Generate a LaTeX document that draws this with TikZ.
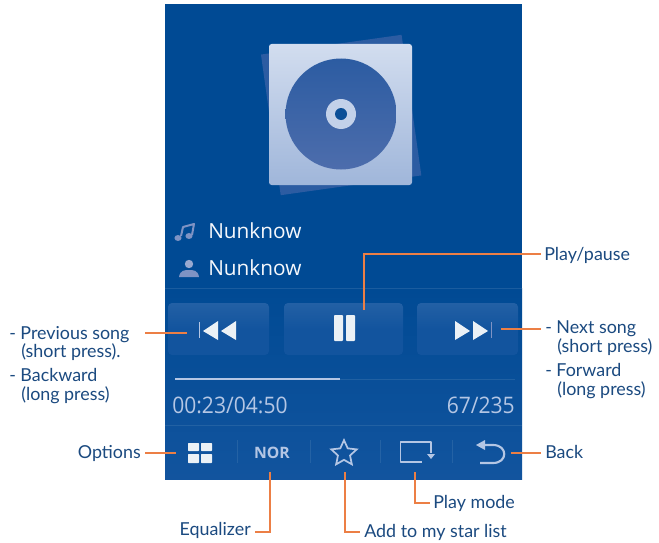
\documentclass[tikz,border=0pt]{standalone}
\usepackage{fontspec}
\setmainfont{Lato}
\newfontfamily\uifont{Open Sans}
\usetikzlibrary{shapes.geometric}
\definecolor{labelblue}{HTML}{1B4A80}
\definecolor{leadorange}{HTML}{EC7F45}
\definecolor{paneltop}{HTML}{004A94}
\definecolor{panelbot}{HTML}{12549E}
\definecolor{uilight}{HTML}{B4C6E4}
\definecolor{uidim}{HTML}{7F93C4}
\definecolor{discblue}{HTML}{4D6DAC}
\definecolor{backsq}{HTML}{2C5CA2}
\definecolor{btnfill}{HTML}{12549E}
\tikzset{
  x=0.75pt,y=-0.75pt,
  lbl/.style={text=labelblue,inner sep=0pt,font=\fontsize{13.4}{15}\selectfont},
  lead/.style={draw=leadorange,line width=1.5pt,line join=miter},
  btn/.style={top color=btnfill!93!white,bottom color=btnfill,middle color=btnfill,rounded corners=3pt},
  uitext/.style={text=uilight,inner sep=0pt},
  trackname/.style={text=white!88!uilight,inner sep=0pt,anchor=base west,font=\uifont\fontsize{15.6}{17}\selectfont},
  timetext/.style={uitext,font=\uifont\fontsize{15.8}{17}\selectfont},
  sep/.style={draw=white!30!paneltop,opacity=.35,line width=.5pt},
  icon/.style={fill=white!92!paneltop,draw=none},
  iconline/.style={draw=uilight,line width=1.3pt,line join=round}
}
\begin{document}
\begin{tikzpicture}
\useasboundingbox (0,0) rectangle (659,542);
\fill[white] (0,0) rectangle (659,542);
% panel
\fill[paneltop] (165,4) rectangle (522,290);
\shade[top color=paneltop,bottom color=panelbot] (165,288) rectangle (522,479);
% album art
\fill[backsq,rotate around={8:(341,114)}] (270,44) rectangle (412,186);
\shade[top color=uilight!60!white,bottom color=uilight!85!backsq,rounded corners=2pt] (269,44) rectangle (412,185);
\shade[top color=backsq,bottom color=discblue] (341,114) circle[radius=55.5];
\fill[uilight!80!white] (341,114) circle[radius=15];
\fill[paneltop!75!backsq] (341,114) circle[radius=6];
% track rows
\node[trackname] (song) at (208,238) {Nunknow};
\node[trackname] (artist) at (208,275) {Nunknow};
% note icon
\draw[uidim,line width=1.5pt,line join=round] (181,236) -- (183,227) -- (194,224) -- (192,235);
\fill[uidim] (178,238) ellipse[x radius=3.6,y radius=3] (189,236) ellipse[x radius=3.6,y radius=3];
% person icon
\fill[uidim!80!white] (189,264) circle[radius=4.2];
\fill[uidim] (179,277) .. controls (180,270) and (185,270) .. (189,270) .. controls (193,270) and (198,270) .. (199,277) -- cycle;
% row separator
\draw[sep] (165,288) -- (522,288);
% buttons
\path[btn] (168,303) rectangle (269,355);
\path[btn] (284,303) rectangle (403,355);
\path[btn] (417,303) rectangle (518,355);
% prev icon
\fill[uilight] (198.5,322) rectangle (200,338);
\fill[icon] (203,331) -- (218,321) -- (218,340) -- cycle;
\fill[icon] (221,331) -- (236,321) -- (236,340) -- cycle;
\coordinate (previcon) at (187,333);
% pause icon
\fill[icon,rounded corners=.6pt] (334,315) rectangle (343,341);
\fill[icon,rounded corners=.6pt] (346,315) rectangle (355,341);
\coordinate (pauseicon) at (364,310);
% next icon
\fill[icon] (455,321) -- (470,331) -- (455,340) -- cycle;
\fill[icon] (473,321) -- (488,331) -- (473,340) -- cycle;
\fill[uidim] (491,322) rectangle (492,338);
\coordinate (nexticon) at (501,329);
% progress bar
\draw[sep] (340,379) -- (515,379);
\draw[uilight,line width=1.5pt] (175,379) -- (340,379);
% times
\node[timetext,anchor=base west] (elapsed) at (172,413) {\scalebox{1}[1.08]{00:23/04:50}};
\node[timetext,anchor=base east] (count) at (515,413) {\scalebox{1}[1.08]{67/235}};
% toolbar
\draw[sep] (165,425) -- (522,425);
\foreach \sx in {237,310,380,452} \draw[sep] (\sx,440) -- (\sx,463);
% options icon
\fill[icon,rounded corners=.5pt] (188,443) rectangle (199,451);
\fill[icon,rounded corners=.5pt] (201,443) rectangle (212,451);
\fill[icon,rounded corners=.5pt] (188,454) rectangle (199,463);
\fill[icon,rounded corners=.5pt] (201,454) rectangle (212,463);
\coordinate (optionsicon) at (176,453);
% NOR
\node[uitext,font=\uifont\bfseries\fontsize{11.8}{13}\selectfont] (nor) at (272,453) {NOR};
\coordinate (noricon) at (270,472);
% star
\node[star,star points=5,star point ratio=2.1,draw=uilight,line width=1.3pt,minimum size=20pt,inner sep=0pt] (staricon) at (344,453.5) {};
\coordinate (starend) at (345,472);
% play mode icon
\draw[iconline] (431,453) -- (431,442) -- (400.5,442) -- (400.5,462) -- (422,462);
\fill[uilight] (427,454) -- (435,454) -- (431,459) -- cycle;
\coordinate (modeicon) at (415,472);
% back icon
\draw[iconline,line width=1.6pt] (481,445) -- (493,445) .. controls (508,445) and (508,463) .. (493,463) -- (480,463);
\fill[uilight] (476,445) -- (485,440) -- (485,450) -- cycle;
\coordinate (backicon) at (511,453);
% labels
\node[lbl,anchor=base west] (play) at (544,260) {Play/pause};
\node[lbl,anchor=base west] (prev1) at (9,339) {- Previous song};
\node[lbl,anchor=base west] at (21,357) {(short press).};
\node[lbl,anchor=base west] at (9,381) {- Backward};
\node[lbl,anchor=base west] at (21,400) {(long press)};
\node[lbl,anchor=base west] (next1) at (545,333) {- Next song};
\node[lbl,anchor=base west] at (557,352) {(short press)};
\node[lbl,anchor=base west] at (545,376) {- Forward};
\node[lbl,anchor=base west] at (557,395) {(long press)};
\node[lbl,anchor=base east] (options) at (141,458) {Options};
\node[lbl,anchor=base west] (back) at (545,458) {Back};
\node[lbl,anchor=base west] (mode) at (433,508) {Play mode};
\node[lbl,anchor=base west] (starlabel) at (364,537) {Add to my star list};
\node[lbl,anchor=base east] (eq) at (251,535) {Equalizer};
% connectors
\coordinate (prevL) at (145,333);
\coordinate (nextR) at (541,329);
\coordinate (playR) at (541,254);
\coordinate (optL) at (145,453);
\coordinate (backR) at (541,453);
\coordinate (eqL) at (255,532);
\coordinate (starR) at (360,532);
\coordinate (modeR) at (430,503);
\draw[lead] (pauseicon) |- (playR);
\draw[lead] (prevL) -- (previcon);
\draw[lead] (nexticon) -- (nextR);
\draw[lead] (optL) -- (optionsicon);
\draw[lead] (backicon) -- (backR);
\draw[lead] (noricon) |- (eqL);
\draw[lead] (starend) |- (starR);
\draw[lead] (modeicon) |- (modeR);
\end{tikzpicture}
\end{document}
